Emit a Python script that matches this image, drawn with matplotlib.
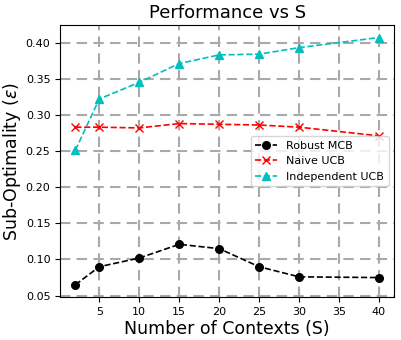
import matplotlib
matplotlib.use("Agg")
import matplotlib.pyplot as plt

S = [2, 5, 10, 15, 20, 25, 30, 40]
robust_mcb = [0.065, 0.090, 0.102, 0.121, 0.115, 0.090, 0.076, 0.075]
naive_ucb = [0.283, 0.283, 0.282, 0.288, 0.287, 0.286, 0.283, 0.271]
indep_ucb = [0.251, 0.322, 0.345, 0.371, 0.383, 0.384, 0.393, 0.407]
xticks = [5, 10, 15, 20, 25, 30, 35, 40]

fig, ax = plt.subplots(figsize=(4.01, 3.4), dpi=100)
fig.subplots_adjust(left=0.150, right=0.983, top=0.926, bottom=0.126)

ax.plot(S, robust_mcb, 'k--', marker='o', ms=5.5, lw=1.2, label='Robust MCB')
ax.plot(S, naive_ucb, 'r--', marker='x', ms=5.5, lw=1.2, label='Naive UCB')
ax.plot(S, indep_ucb, 'c--', marker='^', ms=5.5, lw=1.2, label='Independent UCB')

ax.set_xticks(xticks)
ax.grid(True, linestyle=(0, (5, 3)), color='darkgray', linewidth=1.5)
ax.set_axisbelow(True)

ax.set_title('Performance vs S', fontsize=13, pad=5)
ax.set_xlabel('Number of Contexts (S)', fontsize=12.5, labelpad=2)
ax.set_ylabel(r'Sub-Optimality ($\epsilon$)', fontsize=12.5, labelpad=2)
ax.tick_params(labelsize=8)
ax.legend(loc='center right', fontsize=8)

fig.savefig('out.png', dpi=100)
